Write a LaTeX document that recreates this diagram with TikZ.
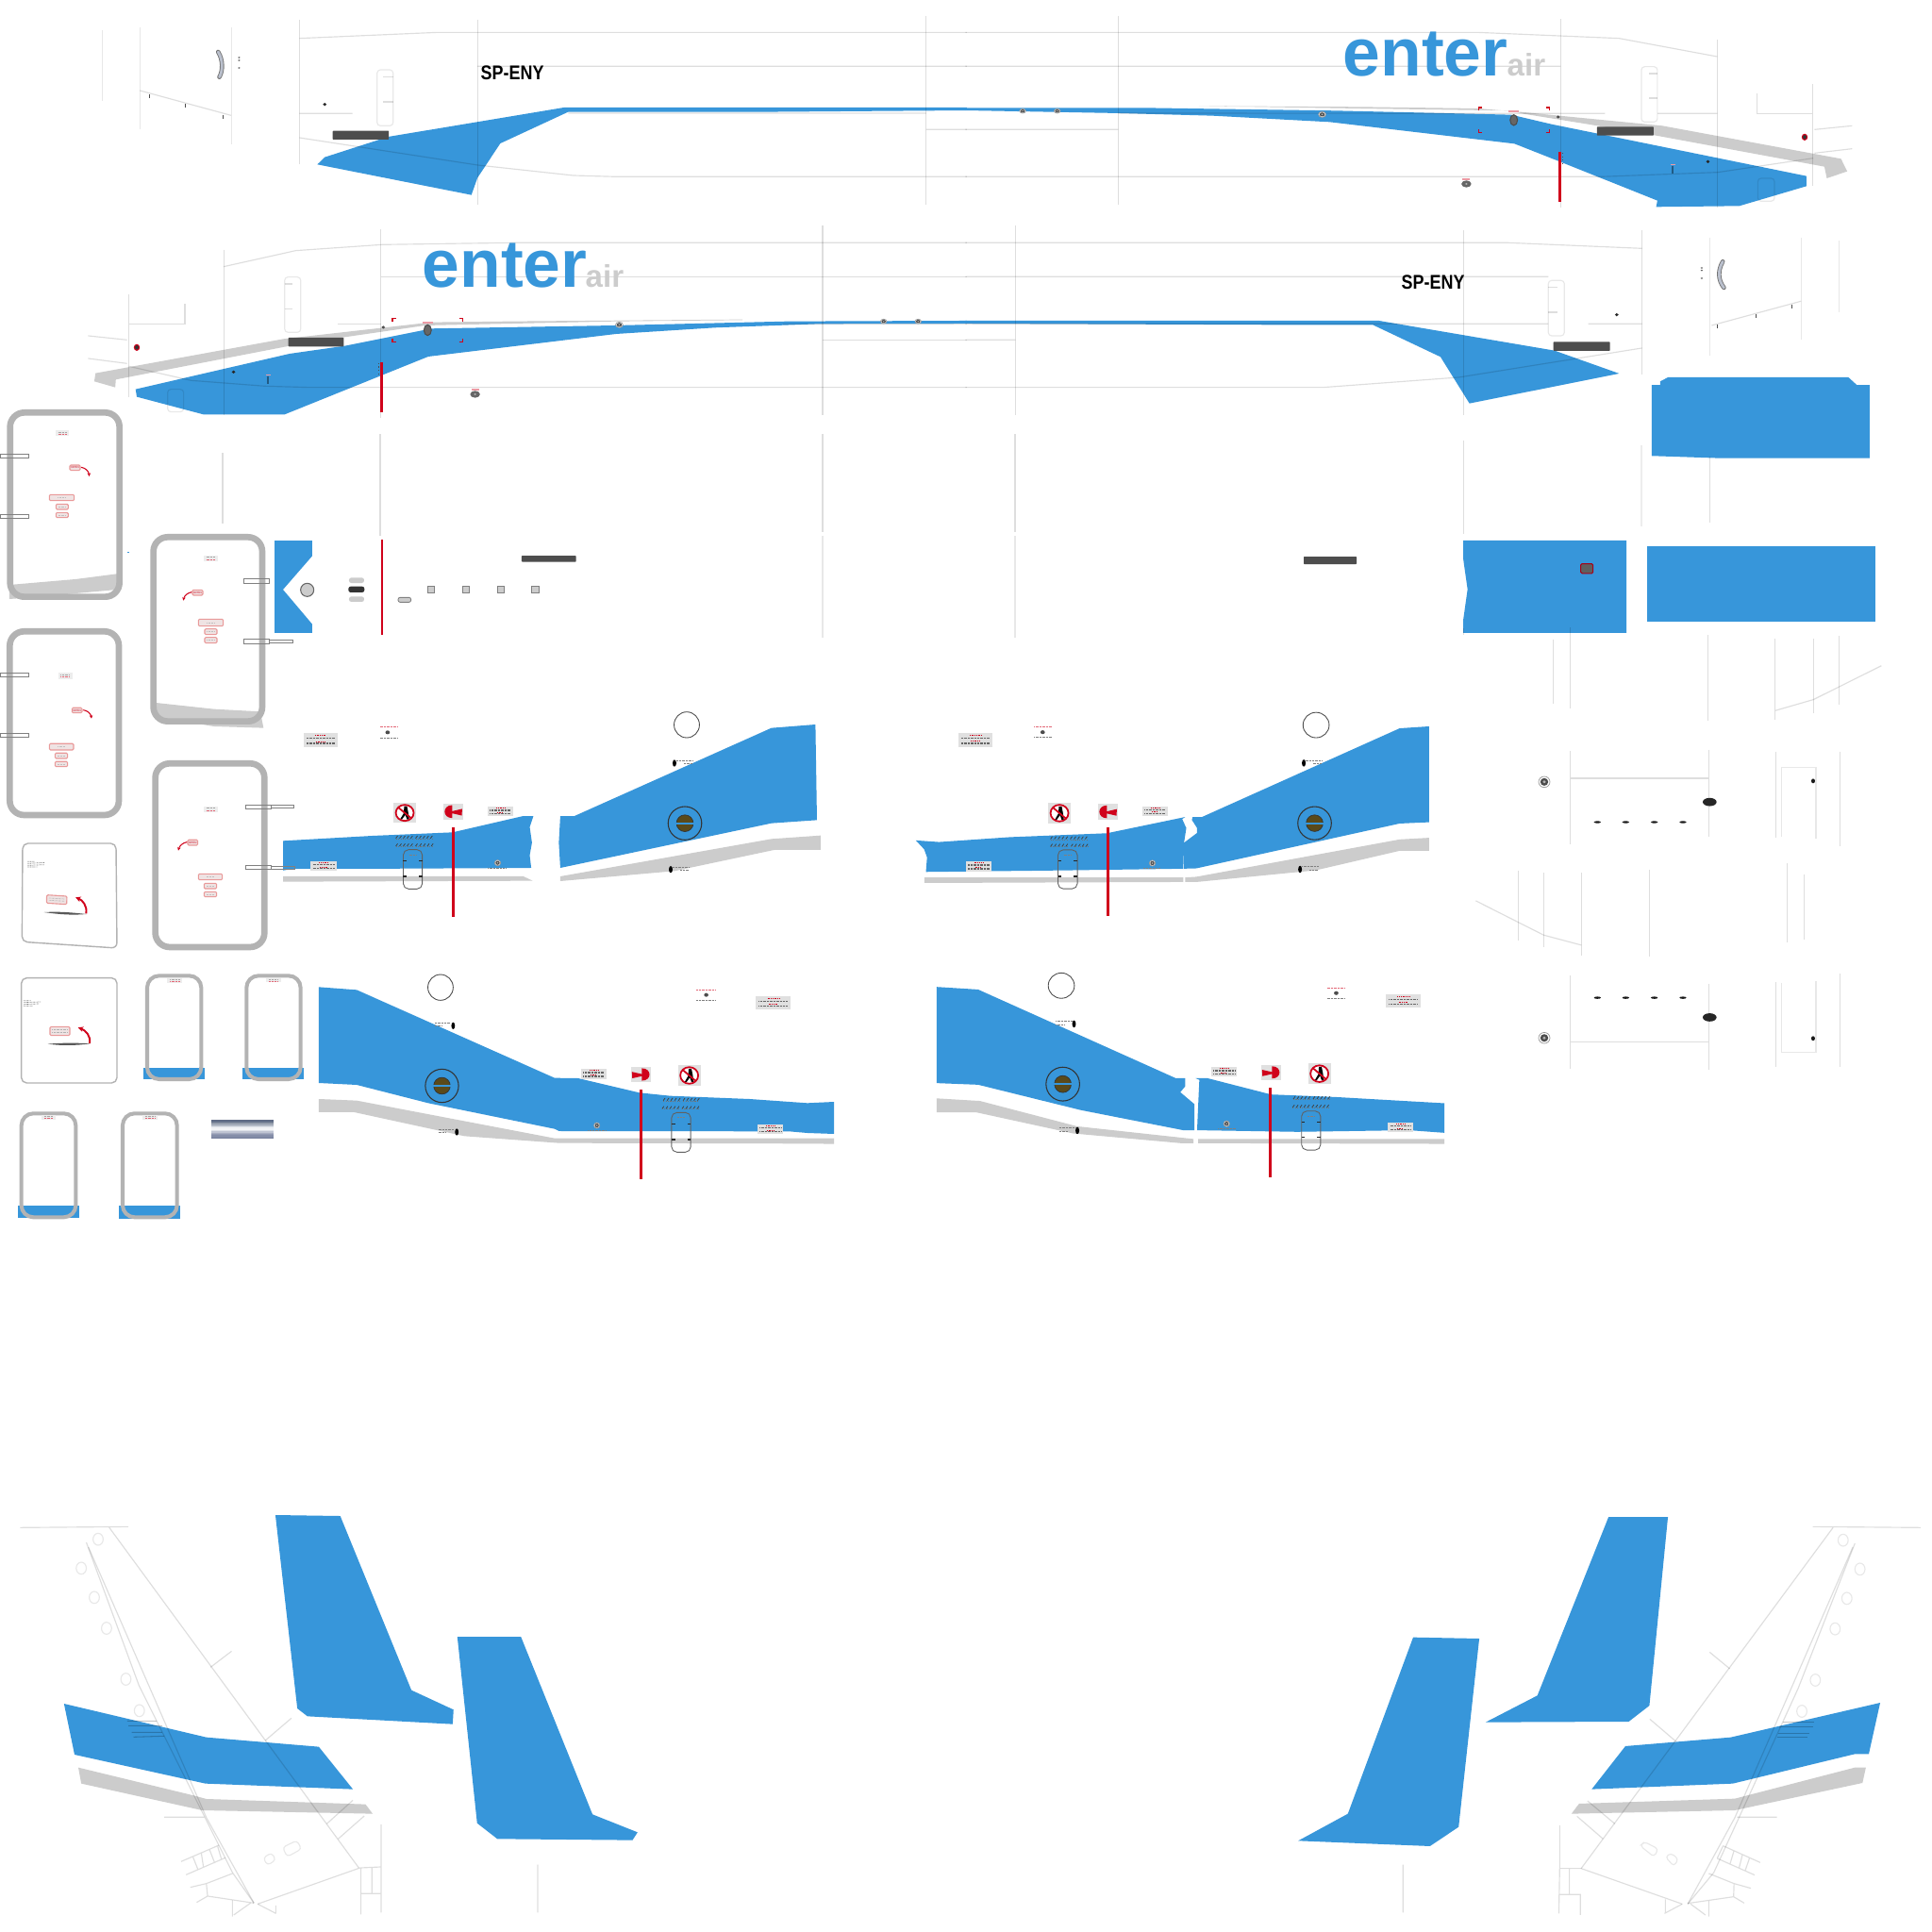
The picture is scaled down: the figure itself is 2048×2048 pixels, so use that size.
\documentclass[tikz,border=0pt]{standalone}
\usepackage{fontspec}
\setmainfont{Liberation Sans}
\usetikzlibrary{arrows.meta,calc}
\definecolor{brandblue}{HTML}{3796DA}
\definecolor{stripe}{HTML}{CCCCCC}
\definecolor{darkbar}{HTML}{4D4D4D}
\definecolor{ringgray}{HTML}{B3B3B3}
\definecolor{signred}{HTML}{D0021B}
\definecolor{pinkf}{HTML}{EFE3E3}
\definecolor{pinkd}{HTML}{E99A9A}
\definecolor{placg}{HTML}{E0E0E0}
\definecolor{brownf}{HTML}{5A4A1A}
\definecolor{handleblue}{HTML}{8C96AC}
\tikzset{
 z1/.style={xscale=.6532,yscale=.3333},
 z2/.style={shift={(1024,0)},xscale=.6532,yscale=.3333},
 z3/.style={shift={(0,420)},xscale=.3333,yscale=.3333},
 z4/.style={shift={(280,740)},xscale=.3954,yscale=.3333},
 z5/.style={shift={(0,880)},xscale=.3333,yscale=.3333},
 z6/.style={shift={(320,1010)},xscale=.3827,yscale=.3333},
 z7/.style={shift={(940,740)},xscale=.3954,yscale=.3444},
 z8/.style={shift={(1540,380)},xscale=.3333,yscale=.4847},
 z9/.style={shift={(0,1580)},xscale=.4464,yscale=.3333},
 z10/.style={shift={(1348,1580)},xscale=.4464,yscale=.3333},
 z11/.style={shift={(280,520)},xscale=.3333,yscale=.3333},
 ln/.style={draw=black,draw opacity=.13,line width=.33pt},
 lnl/.style={draw=black,draw opacity=.09,line width=.33pt},
 lnw/.style={draw=black,draw opacity=.07,line width=.55pt},
 bl/.style={fill=brandblue},
 gr/.style={fill=stripe},
 dk/.style={fill=darkbar,rounded corners=.2pt},
 redl/.style={draw=signred,line width=.85pt},
 brk/.style={draw=signred,line width=.45pt},
 tinymk/.style={draw=black!50,line width=.2pt,dash pattern=on .2pt off .2pt},
 hatchmk/.style={draw=black!75,line width=.22pt},
 bigring/.style={draw=ringgray,line width=1.9pt,rounded corners=4.3pt},
 smallring/.style={draw=ringgray,line width=1.15pt,rounded corners=3.6pt},
 cardring/.style={draw=ringgray,line width=.4pt,rounded corners=1.6pt},
 tabbox/.style={draw=black!50,line width=.25pt},
 pinkbox/.style={draw=pinkd,fill=pinkf,line width=.32pt,rounded corners=.35pt},
 redarrow/.style={draw=signred,line width=.3pt,-{Stealth[length=1pt,width=1pt]}},
 bigarrow/.style={draw=signred,line width=.55pt,-{Stealth[length=1.6pt,width=1.6pt]}},
 txt/.style={inner sep=0pt,anchor=base west},
}
\newcommand\placard[4]{%
 \begin{scope}[shift={(#1,#2)},xscale=#3,yscale=#4]
  \fill[placg] (0,0) rectangle (1,1);
  \draw[draw=signred,line width=.25pt,dash pattern=on .25pt off .25pt] (.33,.15) -- (.67,.15);
  \draw[tinymk,line width=.4pt,draw=black!60] (.08,.38) -- (.92,.38);
  \draw[draw=signred,line width=.25pt,dash pattern=on .25pt off .25pt] (.36,.6) -- (.62,.6);
  \draw[tinymk,line width=.4pt,draw=black!60] (.08,.75) -- (.92,.75);
 \end{scope}}
\newcommand\smalllabel[4]{%
 \begin{scope}[shift={(#1,#2)},xscale=#3,yscale=#4]
  \fill[black!7] (0,0) rectangle (1,1);
  \draw[tinymk,draw=black!35] (.18,.3) -- (.82,.3);
  \draw[tinymk,draw=signred!60] (.18,.7) -- (.82,.7);
 \end{scope}}
\newcommand\pinklabel[4]{%
 \path[pinkbox] (#1,#2) rectangle (#3,#4);
 \draw[tinymk,draw=black!25] ($(#1,#2)!.5!(#3,#4)+(-12,0)$) -- ($(#1,#2)!.5!(#3,#4)+(12,0)$);
}
\newcommand\hatchport[4]{%
 \begin{scope}[shift={(#1,#2)},xscale=#3,yscale=#4]
  \draw[black!80,line width=.3pt] (0,0) ellipse (1 and 1);
  \path[draw=black!80,fill=brownf,line width=.2pt] (0,0) ellipse (.5 and .5);
  \fill[brandblue] (-.54,-.06) rectangle (.54,.06);
 \end{scope}}
\newcommand\nowalk[4]{%
 \begin{scope}[shift={(#1,#2)},xscale=#3,yscale=#4]
  \fill[placg] (-1,-1) rectangle (1,1);
  \fill[white] (0,0) ellipse (.82 and .82);
  \fill[black] (-.05,-.65) -- (.2,-.65) -- (.3,-.1) -- (.4,.65) -- (.2,.65) -- (.05,.2) -- (-.25,.65) -- (-.42,.65) -- (-.1,.05) -- cycle;
  \draw[signred,line width=.5pt] (-.6,-.55) -- (.6,.55);
  \draw[signred,line width=.5pt] (0,0) ellipse (.8 and .8);
 \end{scope}}
\newcommand\hornsign[4]{%
 \begin{scope}[shift={(#1,#2)},xscale=#3,yscale=#4]
  \fill[placg] (-1,-1) rectangle (1,1);
  \fill[signred] (-.1,-.82) .. controls (-1.15,-.82) and (-1.15,.82) .. (-.1,.82) -- (-.1,.22) -- (.88,.5) -- (.92,-.35) -- (-.1,-.05) -- cycle;
 \end{scope}}
\newcommand\minidoor[4]{%
 \begin{scope}[shift={(#1,#2)},xscale=#3,yscale=#4]
  \draw[black!62,line width=.25pt,rounded corners=1.6pt] (0,0) rectangle (1,1);
  \draw[black!85,line width=.35pt] (0,.29) -- (.18,.29) (.82,.29) -- (1,.29) (0,.68) -- (.18,.68) (.82,.68) -- (1,.68);
  \draw[tinymk] (.3,.13) -- (.7,.13);
 \end{scope}}
\newcommand\hatchrow[3]{%
 \foreach \hx in {0,.25,.5,.75,1} {\draw[hatchmk] ($(#1,#3)!\hx!(#2,#3)+(-2,4)$) -- ($(#1,#3)!\hx!(#2,#3)+(3,-4)$);}
 \draw[hatchmk,draw=black!55,line width=.18pt,dash pattern=on .3pt off .4pt] (#1-2,#3+5) -- (#2+2,#3+5);
}
\newcommand\portdot[4]{%
 \path[draw=black!40,fill=white,line width=.2pt] (#1,#2) ellipse (#3 and #4);
 \fill[black!70] (#1,#2) ellipse (.7*#3 and .7*#4);
 \fill[black!30] (#1,#2) ellipse (.28*#3 and .28*#4);
}
\newcommand\brackets[4]{%
 \draw[brk] (#1,#2+10) -- (#1,#2) -- (#1+6,#2) (#3-6,#2) -- (#3,#2) -- (#3,#2+10)
  (#1,#4-10) -- (#1,#4) -- (#1+6,#4) (#3-6,#4) -- (#3,#4) -- (#3,#4-10);
}
\newcommand\handlearc[4]{%
 \draw[black!55,line width=1.3pt,line cap=round] #1 .. controls #2 and #3 .. #4;
 \draw[handleblue!60!white,line width=.8pt,line cap=round] #1 .. controls #2 and #3 .. #4;
}
\begin{document}
\begin{tikzpicture}[x=.01cm,y=-.01cm]
\useasboundingbox (0,0) rectangle (2048,2048);
\fill[white] (0,0) rectangle (2048,2048);

% ---------- fuselage bands ----------
\begin{scope}[z2]
 \fill[gr] (378,337) -- (640,340) -- (830,345) -- (900,356) -- (1130,400) -- (1420,505) -- (1430,545) -- (1397,567) -- (1393,530) -- (1117,430) -- (1025,400) -- (905,362) -- (885,352) -- (640,345) -- cycle;
 \fill[bl] (-1,343) -- (290,343) -- (600,352) -- (885,365) -- (950,395) -- (1364,560) -- (1364,592) -- (1255,655) -- (1120,658) -- (1122,638) -- (965,515) -- (890,457) -- (590,388) -- (400,368) -- (250,360) -- (-1,351) -- cycle;
 \fill[bl] (-1,1020) -- (670,1020) -- (955,1115) -- (1060,1188) -- (817,1283) -- (770,1135) -- (660,1033) -- (500,1033) -- (-1,1029) -- cycle;
\end{scope}
\begin{scope}[z1]
 \fill[gr] (1205,1016) -- (830,1022) -- (700,1025) -- (460,1078) -- (155,1187) -- (153,1213) -- (187,1232) -- (188,1207) -- (470,1100) -- (560,1072) -- (690,1035) -- (1000,1022) -- (1205,1018) -- cycle;
 \fill[bl] (915,342) -- (1569,342) -- (1569,351) -- (1230,356) -- (922,356) -- (812,456) -- (775,565) -- (765,620) -- (515,523) -- (527,500) -- (630,435) -- cycle;
 \fill[bl] (1569,1020) -- (1280,1022) -- (1000,1035) -- (700,1045) -- (560,1100) -- (470,1125) -- (220,1238) -- (222,1262) -- (330,1318) -- (462,1318) -- (695,1134) -- (1000,1062) -- (1160,1042) -- (1330,1030) -- (1569,1029) -- cycle;
\end{scope}
\begin{scope}[z8]
 \fill[bl] (633,58) -- (660,58) -- (660,50) -- (685,41) -- (1258,41) -- (1285,58) -- (1326,58) -- (1326,218) -- (850,218) -- (633,213) -- cycle;
 \fill[bl] (33,398) -- (552,398) -- (552,600) -- (33,600) -- (33,573) -- (47,505) -- (33,437) -- cycle;
 \fill[bl] (618,411) rectangle (1344,576);
 \path[draw=signred!80!black,fill=darkbar!90,line width=.3pt,rounded corners=.4pt] (407,449) rectangle (446,470);
\end{scope}

% ---------- fuselage lines, top ----------
\begin{scope}[z1]
 \draw[ln] (486,62) -- (486,522) (775,62) -- (775,650) (1503,50) -- (1503,650);
 \draw[lnl] (166,95) -- (166,322) (227,88) -- (227,410) (376,88) -- (376,460);
 \draw[ln] (486,122) -- (710,103) -- (1569,103) (775,211) -- (1569,211) (486,361) -- (572,361) (922,360) -- (1503,360) (1503,412) -- (1569,412);
 \draw[ln] (486,438) -- (775,525) -- (930,558) -- (1000,562) -- (1569,562);
 \draw[ln] (227,288) -- (375,367);
 \draw[black!70,line width=.25pt] (242,300) -- (242,312) (300,330) -- (300,342) (362,365) -- (362,377);
 \path[lnl,fill=white,rounded corners=1pt] (612,222) rectangle (638,400);
 \draw[ln] (622,245) -- (638,245) (622,324) -- (638,324);
 \path[dk] (540,416) rectangle (631,444);
 \handlearc{(354,165)}{(362,190)}{(362,225)}{(356,245)}
 \fill[black!85] (527,332) ellipse (3 and 5);
 \fill[black!60] (388,183) ellipse (2 and 2.5) (388,192) ellipse (2 and 2.5) (388,216) ellipse (2 and 2.5);
 % second band
 \draw[ln] (363,795) -- (363,1320) (618,730) -- (618,1328) (1335,718) -- (1335,1320) (209,937) -- (209,1262) (300,965) -- (300,1030) -- (209,1030);
 \draw[ln] (143,1068) -- (206,1081) (143,1140) -- (206,1156);
 \draw[ln] (363,848) -- (480,797) -- (620,778) -- (830,772) -- (1569,772);
 \draw[ln] (618,880) -- (1569,880) (1335,1081) -- (1569,1081) (548,1030) -- (618,1030) (1270,1030) -- (1569,1030);
 \draw[ln] (209,1165) -- (310,1210) -- (430,1228) -- (500,1232) -- (1569,1232);
 \path[lnl,rounded corners=1pt] (272,1238) rectangle (298,1310);
 \path[lnl,fill=white,rounded corners=1pt] (462,881) rectangle (488,1057);
 \draw[ln] (462,903) -- (475,903) (462,982) -- (475,982);
 \path[dk] (468,1074) rectangle (558,1102);
 \brackets{637}{1012}{751}{1088}
 \path[draw=black!70,fill=black!60,line width=.3pt] (694,1050) ellipse (6 and 17);
 \fill[signred!40] (686,1022) rectangle (702,1028);
 \fill[black!70] (622,1041) ellipse (3 and 5);
 \portdot{1005}{1033}{6}{9}
 \portdot{1434}{1022}{5}{7}
 \portdot{1490}{1022}{5}{7}
 \fill[signred!40] (765,1235) rectangle (777,1242);
 \fill[black!60] (771,1254) ellipse (8 and 11);
 \fill[black!30] (771,1254) ellipse (2 and 3);
 \draw[redl] (619,1152) -- (619,1310);
 \draw[black!70,line width=.3pt,dash pattern=on .4pt off .6pt] (615,1155) -- (615,1190);
 \fill[black!85] (379,1183) ellipse (3 and 5);
 \draw[black!40!brandblue,line width=.45pt] (435,1196) -- (435,1220);
 \fill[signred!40] (431,1190) rectangle (439,1194);
 \path[draw=signred,fill=black!80,line width=.3pt] (222,1105) ellipse (4 and 9);
\end{scope}
\begin{scope}[z2]
 \draw[ln] (247,50) -- (247,650) (965,60) -- (965,660) (1219,125) -- (1219,660);
 \draw[ln] (1374,268) -- (1374,592) (1284,296) -- (1284,361) -- (1374,361);
 \draw[ln] (-1,103) -- (830,103) -- (1060,122) -- (1219,180) (-1,211) -- (965,211);
 \draw[ln] (247,360) -- (1037,361) (1122,361) -- (1219,361) (-1,412) -- (247,412);
 \draw[ln] (-1,562) -- (1030,562) -- (1220,548) -- (1375,503);
 \draw[ln] (1377,412) -- (1438,400) (1377,487) -- (1438,473);
 \path[lnl,rounded corners=1pt] (1285,567) rectangle (1312,640);
 \path[lnl,fill=white,rounded corners=1pt] (1096,212) rectangle (1122,388);
 \draw[ln] (1109,234) -- (1122,234) (1109,312) -- (1122,312);
 \path[dk] (1024,403) rectangle (1116,431);
 \brackets{832}{342}{947}{422}
 \path[draw=black!70,fill=black!60,line width=.3pt] (889,382) ellipse (6 and 17);
 \fill[signred!40] (881,352) rectangle (897,358);
 \fill[black!70] (961,372) ellipse (3 and 5);
 \portdot{578}{364}{6}{9}
 \portdot{92}{353}{5}{7}
 \portdot{148}{353}{5}{7}
 \draw[redl] (964,483) -- (964,642);
 \draw[black!70,line width=.3pt,dash pattern=on .4pt off .6pt] (968,486) -- (968,520);
 \fill[signred!40] (806,567) rectangle (818,574);
 \fill[black!60] (812,585) ellipse (8 and 11);
 \fill[black!30] (812,585) ellipse (2 and 3);
 \fill[black!85] (1204,514) ellipse (3 and 5);
 \draw[black!40!brandblue,line width=.45pt] (1147,527) -- (1147,551);
 \fill[signred!40] (1143,521) rectangle (1151,525);
 \path[draw=signred,fill=black!80,line width=.3pt] (1361,436) ellipse (4 and 9);
 % second band
 \draw[ln] (80,718) -- (80,1320) (807,733) -- (807,1320) (1097,733) -- (1097,1190);
 \draw[lnl] (1207,755) -- (1207,1130) (1356,755) -- (1356,1080) (1417,765) -- (1417,992);
 \draw[ln] (-1,772) -- (880,772) -- (1097,790) (-1,880) -- (945,880) (-1,1030) -- (945,1030) (1010,1030) -- (1097,1030) (-1,1081) -- (80,1081);
 \draw[ln] (-1,1232) -- (580,1232) -- (800,1200) -- (1097,1107);
 \draw[ln] (1210,1035) -- (1355,958);
 \draw[black!70,line width=.25pt] (1220,1033) -- (1220,1045) (1282,1000) -- (1282,1012) (1340,968) -- (1340,980);
 \path[lnl,fill=white,rounded corners=1pt] (945,892) rectangle (971,1068);
 \draw[ln] (945,914) -- (960,914) (945,993) -- (960,993);
 \path[dk] (953,1087) rectangle (1045,1116);
 \fill[black!85] (1056,1001) ellipse (3 and 5);
 \handlearc{(1228,832)}{(1220,860)}{(1220,890)}{(1230,915)}
 \fill[black!60] (1194,852) ellipse (2 and 2.5) (1194,860) ellipse (2 and 2.5) (1194,885) ellipse (2 and 2.5);
\end{scope}

% ---------- lettering ----------
\node[txt,font={\fontsize{20.3pt}{22pt}\selectfont\bfseries},text=brandblue] (enterA) at (1423,80) {enter};
\node[txt,font={\fontsize{9.4pt}{10pt}\selectfont\bfseries},text=stripe] (airA) at (1597,80) {air};
\node[txt,font={\fontsize{20.3pt}{22pt}\selectfont\bfseries},text=brandblue] (enterB) at (447,304) {enter};
\node[txt,font={\fontsize{9.4pt}{10pt}\selectfont\bfseries},text=stripe] (airB) at (620,304) {air};
\node[txt,font={\fontsize{6pt}{7pt}\selectfont\bfseries}] (regA) at (509,84) {\scalebox{.85}[1]{SP-ENY}};
\node[txt,font={\fontsize{6pt}{7pt}\selectfont\bfseries}] (regB) at (1485,306) {\scalebox{.85}[1]{SP-ENY}};

% ---------- middle rows: loose panel lines ----------
\draw[ln] (236,480) -- (236,555) (403,460) -- (403,568) (872,460) -- (872,564) (1076,460) -- (1076,564);
\draw[lnl] (872,568) -- (872,676) (1076,568) -- (1076,676);
\begin{scope}[z8]
 \draw[ln] (34,180) -- (34,383) (817,215) -- (817,358);
 \draw[lnw] (600,190) -- (600,368);
 \draw[ln] (34,590) -- (34,605) (319,614) -- (319,755) (373,588) -- (373,765) (811,605) -- (811,793) (1025,612) -- (1025,790) (1147,612) -- (1147,775) (1228,607) -- (1228,757);
 \draw[ln] (1026,770) -- (1147,746) -- (1363,672);
 \draw[ln] (373,858) -- (373,1062) (814,856) -- (814,1045) (1027,860) -- (1027,1048) (1231,860) -- (1231,1067) (372,918) -- (812,918);
 \draw[lnl] (1045,1047) -- (1045,895) -- (1155,895) -- (1155,1050);
 \portdot{291}{926}{18}{12}
 \fill[black!85] (817,970) ellipse (22 and 9);
 \foreach \px in {460,550,641,732} \fill[black!90] (\px,1014) ellipse (11 and 2.5);
 \fill[black!90] (1146,924) ellipse (6 and 5);
 \draw[ln] (208,1120) -- (208,1272) (289,1125) -- (289,1288) (409,1125) -- (409,1305) (625,1118) -- (625,1307) (1063,1104) -- (1063,1278) (1117,1128) -- (1117,1270);
 \draw[ln] (73,1186) -- (289,1261) -- (409,1283);
 \draw[ln] (373,1350) -- (373,1553) (814,1367) -- (814,1555) (1027,1364) -- (1027,1550) (1231,1345) -- (1231,1550) (372,1495) -- (812,1495);
 \draw[lnl] (1045,1366) -- (1045,1517) -- (1155,1517) -- (1155,1362);
 \portdot{291}{1486}{18}{12}
 \fill[black!85] (817,1441) ellipse (22 and 9);
 \foreach \px in {460,550,641,732} \fill[black!90] (\px,1398) ellipse (11 and 2.5);
 \fill[black!90] (1146,1487) ellipse (6 and 5);
\end{scope}
\begin{scope}[z11]
 \fill[bl] (33,159) -- (153,159) -- (153,208) -- (60,315) -- (153,425) -- (153,453) -- (33,453) -- cycle;
 \path[draw=black!60,fill=stripe,line width=.3pt] (137,316) circle (21);
 \path[fill=stripe,rounded corners=.7pt] (270,277) rectangle (318,294);
 \path[fill=black!80,rounded corners=.7pt] (268,305) rectangle (319,324);
 \path[fill=stripe,rounded corners=.7pt] (270,337) rectangle (318,354);
 \draw[signred,line width=.6pt] (374,155) -- (374,460);
 \path[draw=black!50,fill=stripe,line width=.25pt,rounded corners=.6pt] (426,340) rectangle (467,355);
 \foreach \px in {531,642,752,862} \path[draw=black!50,fill=stripe,line width=.25pt] (\px-11,303) rectangle (\px+11,325);
 \path[dk] (819,207) rectangle (992,227);
\end{scope}
\path[dk] (1382,590) rectangle (1438,598);

% ---------- big doors ----------
\begin{scope}[z3]
 \fill[stripe] (30,645) -- (30,600) -- (240,582) -- (372,565) -- (372,615) -- (240,627) -- (100,640) -- cycle;
 \draw[bigring] (32,52) rectangle (380,638);
 \smalllabel{177}{108}{42}{19}
 \path[pinkbox] (222,219) rectangle (255,236);
 \node[font={\fontsize{.85pt}{1pt}\selectfont},text=signred,inner sep=0pt] (openA) at (238.5,227.5) {OPEN};
 \draw[redarrow] (258,226) .. controls (272,228) and (282,238) .. (284,255);
 \pinklabel{157}{313}{236}{332}
 \pinklabel{178}{343}{217}{360}
 \pinklabel{178}{370}{217}{386}
 \path[tabbox] (0,184) rectangle (92,197);
 \path[tabbox] (0,376) rectangle (92,389);

 \fill[stripe] (495,975) -- (680,995) -- (828,1003) -- (838,1055) -- (680,1050) -- (495,1020) -- cycle;
 \draw[bigring] (488,448) rectangle (834,1034);
 \smalllabel{648}{506}{44}{18}
 \path[pinkbox] (612,616) rectangle (645,633);
 \node[font={\fontsize{.85pt}{1pt}\selectfont},text=signred,inner sep=0pt] (openB) at (628.5,624.5) {OPEN};
 \draw[redarrow] (610,623) .. controls (596,625) and (586,635) .. (583,650);
 \pinklabel{631}{709}{710}{731}
 \pinklabel{651}{740}{690}{758}
 \pinklabel{651}{767}{690}{785}
 \path[tabbox] (857,775) rectangle (930,785);
 \path[tabbox] (775,580) rectangle (857,596);
 \path[tabbox] (775,772) rectangle (857,788);

 \draw[bigring] (31,748) rectangle (378,1332);
 \smalllabel{185}{880}{45}{19}
 \path[pinkbox] (229,991) rectangle (261,1007);
 \node[font={\fontsize{.85pt}{1pt}\selectfont},text=signred,inner sep=0pt] (openC) at (245,999) {OPEN};
 \draw[redarrow] (265,998) .. controls (279,1000) and (289,1010) .. (291,1025);
 \pinklabel{157}{1105}{234}{1125}
 \pinklabel{175}{1135}{215}{1152}
 \pinklabel{175}{1162}{215}{1178}
 \path[tabbox] (0,880) rectangle (90,893);
 \path[tabbox] (0,1072) rectangle (90,1085);

 \draw[bigring] (494,1168) rectangle (841,1752);
 \smalllabel{648}{1305}{44}{17}
 \path[pinkbox] (597,1411) rectangle (629,1428);
 \node[font={\fontsize{.85pt}{1pt}\selectfont},text=signred,inner sep=0pt] (openD) at (613,1419.5) {OPEN};
 \draw[redarrow] (595,1418) .. controls (581,1420) and (571,1430) .. (567,1445);
 \fill[brandblue] (405,495) rectangle (411,497);
 \path[tabbox] (863,1301) rectangle (935,1310);
 \path[tabbox] (780,1299) rectangle (863,1313);
\end{scope}
\begin{scope}[z5]
 \pinklabel{631}{139}{707}{158}
 \pinklabel{649}{169}{689}{186}
 \pinklabel{649}{196}{689}{212}
 % cards
 \draw[cardring] (72,42) -- (369,42) -- (372,375) -- (70,355) -- cycle;
 \path[pinkbox] (149,206) -- (213,210) -- (212,236) -- (148,232) -- cycle;
 \draw[tinymk] (88,100) -- (110,100) (88,106) -- (143,103) (88,112) -- (140,110) (88,117) -- (118,117);
 \draw[tinymk,draw=black!30] (156,216) -- (206,219) (156,223) -- (206,226);
 \fill[black!65] (140,261) .. controls (190,258) and (230,262) .. (275,267) .. controls (230,271) and (190,268) .. (140,261) -- cycle;
 \draw[bigarrow] (274,265) .. controls (278,240) and (262,222) .. (240,214);
 \draw[cardring] (68,470) rectangle (372,804);
 \path[pinkbox] (159,625) rectangle (222,653);
 \draw[tinymk,draw=black!30] (166,634) -- (216,634) (166,643) -- (216,643);
 \draw[tinymk] (75,542) -- (98,542) (75,548) -- (130,546) (75,554) -- (125,552) (75,559) -- (105,559);
 \fill[black!65] (152,680) .. controls (200,676) and (240,676) .. (287,679) .. controls (240,685) and (200,686) .. (152,680) -- cycle;
 \draw[bigarrow] (285,678) .. controls (290,655) and (272,636) .. (248,628);
 % small doors
 \fill[brandblue] (457,755) rectangle (650,793);
 \fill[brandblue] (772,755) rectangle (965,793);
 \fill[brandblue] (57,1193) rectangle (251,1232);
 \fill[brandblue] (378,1195) rectangle (572,1235);
 \draw[smallring] (468,463) rectangle (640,792);
 \draw[smallring] (784,463) rectangle (956,792);
 \draw[smallring] (68,901) rectangle (241,1231);
 \draw[smallring] (390,901) rectangle (563,1231);
 \smalllabel{532}{472}{47}{13}
 \smalllabel{847}{471}{46}{13}
 \smalllabel{132}{906}{46}{14}
 \smalllabel{453}{906}{47}{14}
 % gradient bar, banded by hand
 \foreach \by/\bc in {922/5E6B85,926/6E7A92,930/86909F,934/A2AAB8,938/C0C6D0,942/DCE0E6,946/F2F3F6,950/F4F5F8,954/DDE0E8,958/BFC4D3,962/A5ABC0,966/929AB2,970/858EA9,974/7E88A4,977/7A84A0} {
  \definecolor{bandc}{HTML}{\bc}
  \fill[bandc] (672,\by) rectangle (869,\by+4.4);
 }
\end{scope}

% ---------- engine cowl panels: left upper ----------
\begin{scope}[z4]
 \fill[bl] (51,454) -- (290,438) -- (505,427) -- (695,375) -- (722,375) -- (712,410) -- (718,460) -- (712,500) -- (716,540) -- (250,543) -- (80,543) -- (51,548) -- cycle;
 \fill[gr] (51,567) -- (695,567) -- (720,581) -- (51,584) -- cycle;
 \fill[bl] (794,375) -- (832,375) -- (1360,95) -- (1478,84) -- (1482,388) -- (1360,398) -- (794,540) -- (790,460) -- cycle;
 \fill[gr] (794,567) -- (1360,448) -- (1492,437) -- (1492,483) -- (1367,483) -- (1100,550) -- (794,582) -- cycle;
 \draw[black!70,line width=.25pt] (1133,85) ellipse (34 and 41);
 \fill[black] (1100,207) ellipse (5 and 11);
 \fill[black] (1090,545) ellipse (5 and 11);
 \draw[tinymk] (1105,198) -- (1150,198) (1125,209) -- (1148,209) (1095,537) -- (1140,537) (1115,548) -- (1138,548);
 \hatchport{1128}{398}{45}{53}
 \nowalk{377}{365}{30}{32}
 \hornsign{507}{361}{26}{25}
 \placard{600}{345}{67}{30}
 \placard{106}{112}{91}{43}
 \placard{125}{518}{69}{32}
 \fill[black!70] (331,109) circle (6);
 \draw[tinymk,draw=signred!60] (310,92) -- (357,92);
 \draw[tinymk] (310,126) -- (357,126);
 \draw[redl] (507,411) -- (507,695);
 \minidoor{373}{482}{51}{125}
 \hatchrow{355}{395}{442}
 \hatchrow{408}{448}{442}
 \hatchrow{355}{395}{467}
 \hatchrow{408}{450}{467}
 \portdot{626}{524}{8}{9}
 \draw[tinymk] (600,541) -- (647,541);
 % lower tab of the door beside this panel
 \path[tabbox] (20,534) rectangle (81,543);
 \path[tabbox] (-50,532) rectangle (20,545);
\end{scope}

% ---------- engine cowl panels: right upper / right lower ----------
\begin{scope}[z7]
 \fill[bl] (78,438) -- (140,443) -- (330,428) -- (590,416) -- (800,366) -- (792,372) -- (803,400) -- (797,445) -- (795,525) -- (490,530) -- (105,535) -- (108,490) -- (100,465) -- cycle;
 \fill[gr] (101,552) -- (795,552) -- (795,566) -- (101,569) -- cycle;
 \fill[bl] (820,366) -- (845,366) -- (1375,93) -- (1454,87) -- (1454,382) -- (1375,386) -- (830,524) -- (797,525) -- (797,445) -- (832,415) -- (832,400) -- (818,375) -- cycle;
 \fill[gr] (800,552) -- (830,550) -- (1375,435) -- (1454,430) -- (1454,470) -- (1375,470) -- (1150,530) -- (830,566) -- (800,566) -- cycle;
 \draw[black!70,line width=.25pt] (1151,83) ellipse (35 and 39);
 \fill[black] (1118,200) ellipse (5 and 11);
 \fill[black] (1108,527) ellipse (5 and 11);
 \draw[tinymk] (1122,192) -- (1167,192) (1142,202) -- (1165,202) (1113,519) -- (1158,519) (1133,529) -- (1156,529);
 \hatchport{1147}{385}{45}{51}
 \nowalk{463}{354}{30}{32}
 \hornsign{593}{350}{26}{24}
 \placard{686}{333}{67}{30}
 \placard{192}{108}{92}{42}
 \placard{212}{503}{68}{30}
 \fill[black!70] (418,105) circle (6);
 \draw[tinymk,draw=signred!60] (395,89) -- (443,89);
 \draw[tinymk] (395,121) -- (443,121);
 \draw[redl] (593,398) -- (593,672);
 \minidoor{459}{467}{52}{120}
 \hatchrow{441}{482}{430}
 \hatchrow{494}{534}{430}
 \hatchrow{441}{482}{453}
 \hatchrow{496}{536}{453}
 \portdot{712}{508}{8}{9}
 \draw[tinymk] (688,523) -- (734,523);

 \fill[bl] (134,889) -- (245,897) -- (775,1170) -- (800,1170) -- (800,1195) -- (787,1213) -- (825,1250) -- (825,1330) -- (795,1330) -- (520,1268) -- (245,1190) -- (134,1185) -- cycle;
 \fill[gr] (134,1232) -- (250,1240) -- (510,1318) -- (822,1357) -- (822,1370) -- (790,1370) -- (500,1340) -- (240,1275) -- (134,1275) -- cycle;
 \fill[bl] (828,1170) -- (860,1170) -- (1030,1220) -- (1205,1228) -- (1495,1247) -- (1495,1338) -- (1400,1330) -- (1100,1335) -- (832,1330) -- (835,1250) -- (838,1175) -- cycle;
 \fill[gr] (835,1357) -- (1495,1357) -- (1495,1372) -- (835,1370) -- cycle;
 \draw[black!70,line width=.25pt] (468,885) ellipse (35 and 39);
 \fill[black] (502,1003) ellipse (5 and 11);
 \fill[black] (511,1331) ellipse (5 and 11);
 \draw[tinymk] (453,995) -- (497,995) (453,1005) -- (476,1005) (462,1323) -- (506,1323) (462,1333) -- (485,1333);
 \hatchport{472}{1188}{45}{52}
 \placard{870}{1135}{68}{30}
 \hornsign{1030}{1152}{-26}{23}
 \nowalk{1160}{1156}{30}{32}
 \fill[black!70] (1205,908) circle (6);
 \draw[tinymk,draw=signred!60] (1180,892) -- (1228,892);
 \draw[tinymk] (1180,924) -- (1228,924);
 \placard{1339}{912}{92}{40}
 \placard{1344}{1306}{67}{30}
 \draw[redl] (1029,1200) -- (1029,1475);
 \minidoor{1112}{1271}{51}{120}
 \hatchrow{1092}{1132}{1230}
 \hatchrow{1145}{1185}{1230}
 \hatchrow{1090}{1130}{1256}
 \hatchrow{1142}{1182}{1256}
 \portdot{911}{1310}{8}{9}
 \draw[tinymk] (888,1326) -- (937,1326);
\end{scope}

% ---------- engine cowl panels: left lower ----------
\begin{scope}[z6]
 \fill[bl] (47,109) -- (152,118) -- (700,398) -- (765,399) -- (935,445) -- (1020,455) -- (1240,465) -- (1400,478) -- (1474,474) -- (1474,576) -- (1400,573) -- (1350,568) -- (712,567) -- (700,560) -- (350,478) -- (152,420) -- (47,414) -- cycle;
 \fill[gr] (47,465) -- (152,470) -- (700,590) -- (1474,590) -- (1474,608) -- (1415,607) -- (712,605) -- (450,583) -- (145,507) -- (47,507) -- cycle;
 \draw[black!70,line width=.25pt] (384,110) ellipse (35 and 41);
 \fill[black] (419,232) ellipse (5 and 11);
 \fill[black] (429,570) ellipse (5 and 11);
 \draw[tinymk] (368,223) -- (412,223) (368,233) -- (390,233) (378,562) -- (422,562) (378,572) -- (400,572);
 \hatchport{388}{423}{46}{53}
 \placard{774}{369}{70}{32}
 \hornsign{939}{387}{-27}{24}
 \nowalk{1073}{390}{31}{33}
 \fill[black!70] (1120,134) circle (6);
 \draw[tinymk,draw=signred!60] (1092,118) -- (1144,118);
 \draw[tinymk] (1092,151) -- (1144,151);
 \placard{1258}{138}{96}{42}
 \placard{1262}{545}{71}{32}
 \draw[redl] (939,436) -- (939,720);
 \minidoor{1024}{508}{53}{126}
 \hatchrow{1003}{1045}{466}
 \hatchrow{1058}{1098}{466}
 \hatchrow{1000}{1042}{492}
 \hatchrow{1055}{1097}{492}
 \portdot{817}{549}{8}{9}
 \draw[tinymk] (793,566) -- (842,566);
\end{scope}

% ---------- tail, left ----------
\begin{scope}[z9]
 \fill[gr] (186,881) -- (460,970) -- (490,981) -- (868,998) -- (885,1028) -- (480,1017) -- (193,932) -- cycle;
 \fill[bl] (152,678) -- (490,785) -- (757,815) -- (838,950) -- (488,932) -- (177,840) -- cycle;
 \fill[bl] (654,78) -- (808,81) -- (977,635) -- (1077,697) -- (1075,743) -- (730,718) -- (706,693) -- cycle;
 \fill[bl] (1086,465) -- (1237,465) -- (1407,1030) -- (1514,1087) -- (1502,1112) -- (1181,1108) -- (1133,1058) -- cycle;
 \draw[ln] (48,118) -- (305,115) (258,115) -- (852,1200);
 \draw[ln] (205,165) -- (330,620) -- (552,1215) -- (603,1312);
 \draw[ln] (210,180) -- (490,1040) -- (603,1312);
 \draw[ln] (855,1200) -- (612,1315) (603,1312) -- (493,1290) -- (490,1250) -- (452,1262) (493,1290) -- (467,1310) (490,1250) -- (552,1218);
 \draw[ln] (430,1180) -- (520,1128) (442,1222) -- (535,1168) (458,1165) -- (470,1205) (478,1152) -- (483,1197) (497,1140) -- (510,1185) (516,1128) -- (526,1173);
 \draw[ln] (500,562) -- (550,511) (630,795) -- (692,724) (776,1060) -- (838,985) (803,1108) -- (865,1035) (390,1039) -- (485,1039);
 \draw[ln] (552,1303) -- (552,1355) (595,1312) -- (555,1350) (612,1315) -- (655,1345) (655,1320) -- (655,1345);
 \draw[ln] (857,1348) -- (857,1200) -- (905,1197) (883,1200) -- (883,1282) (857,1282) -- (905,1282) (905,1062) -- (905,1342) (1277,1190) -- (1277,1342);
 \foreach \ex/\ey in {233/155,193/247,224/340,253/438,299/600,331/700} \draw[lnl] (\ex,\ey) ellipse (12 and 19);
 \draw[lnl,rounded corners=1pt] (625,1168) -- (645,1152) -- (655,1175) -- (635,1192) -- cycle;
 \draw[lnl,rounded corners=1pt] (671,1135) -- (705,1113) -- (716,1140) -- (682,1165) -- cycle;
 \draw[draw=black,draw opacity=.22,line width=.3pt] (302,733) -- (372,733) (305,748) -- (385,748) (313,769) -- (385,769) (317,784) -- (390,781);
\end{scope}

% ---------- tail, right ----------
\begin{scope}[z10]
 \fill[gr] (1411,881) -- (1385,881) -- (1100,980) -- (730,996) -- (712,1028) -- (1100,1017) -- (1403,930) -- cycle;
 \fill[bl] (1445,675) -- (1090,785) -- (840,813) -- (760,950) -- (1095,932) -- (1385,838) -- (1418,838) -- cycle;
 \fill[bl] (800,84) -- (941,84) -- (897,684) -- (848,735) -- (508,737) -- (631,652) -- cycle;
 \fill[bl] (336,467) -- (493,471) -- (444,1070) -- (376,1131) -- (63,1114) -- (181,1028) -- cycle;
 \draw[ln] (1285,115) -- (1541,118) (1333,118) -- (735,1202);
 \draw[ln] (1385,168) -- (1250,630) -- (1050,1215) -- (988,1315);
 \draw[ln] (1380,180) -- (1100,1040) -- (988,1315);
 \draw[ln] (735,1202) -- (975,1315) (988,1313) -- (1097,1292) -- (1098,1250) -- (1138,1265) (1097,1292) -- (1122,1312) (1098,1250) -- (1038,1218);
 \draw[ln] (1160,1183) -- (1072,1130) (1147,1223) -- (1058,1170) (1072,1130) -- (1058,1170) (1098,1145) -- (1088,1190) (1118,1158) -- (1110,1200) (1135,1168) -- (1125,1207);
 \draw[ln] (1088,567) -- (1040,514) (960,798) -- (898,727) (815,1060) -- (750,987) (787,1108) -- (725,1036) (1105,1039) -- (1200,1039);
 \draw[ln] (1038,1305) -- (1038,1355) (995,1315) -- (1030,1350) (975,1315) -- (933,1345) (935,1300) -- (935,1345);
 \draw[ln] (684,1065) -- (684,1202) -- (735,1202) (682,1345) -- (684,1200) (707,1202) -- (707,1285) (684,1285) -- (733,1285) -- (733,1350) (312,1190) -- (312,1342);
 \foreach \ex/\ey in {1357/158,1397/250,1366/343,1338/440,1291/603,1259/702} \draw[lnl] (\ex,\ey) ellipse (12 and 19);
 \draw[lnl,rounded corners=1pt] (875,1130) -- (885,1117) -- (918,1140) -- (908,1165) -- cycle;
 \draw[lnl,rounded corners=1pt] (935,1165) -- (948,1153) -- (966,1172) -- (955,1195) -- cycle;
 \draw[draw=black,draw opacity=.22,line width=.3pt] (1215,736) -- (1288,736) (1205,751) -- (1285,751) (1203,772) -- (1277,772) (1200,785) -- (1273,785);
\end{scope}
\end{tikzpicture}
\end{document}
